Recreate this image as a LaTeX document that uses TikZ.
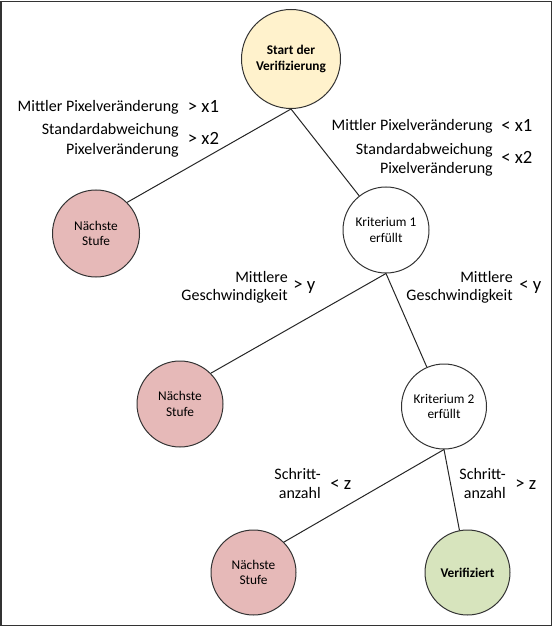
\documentclass[tikz,border=0pt]{standalone}
\usepackage{fontspec}
\setmainfont{Carlito}
\definecolor{startfill}{HTML}{FFF2CC}
\definecolor{redfill}{HTML}{E6B9B8}
\definecolor{greenfill}{HTML}{D7E4BD}
\begin{document}
\begin{tikzpicture}[x=0.75pt,y=-0.75pt,
  state/.style={circle,draw=black!80,line width=0.75pt,inner sep=0pt,minimum size=64.5pt,align=center,font=\fontsize{10pt}{11.8pt}\selectfont},
  lbl/.style={inner sep=0pt,anchor=base east,font=\fontsize{12pt}{14.4pt}\selectfont},
  cmp/.style={inner sep=0pt,anchor=base west,font=\fontsize{14pt}{16.8pt}\selectfont},
  edge/.style={draw=black!85,line width=0.75pt}]
\useasboundingbox (0,0) rectangle (553,627);
\draw[black!80,line width=1.1pt] (1.2,1.4) rectangle (551.4,625.4);

\node[state,fill=startfill,minimum size=74.25pt,font=\bfseries\fontsize{10pt}{11.8pt}\selectfont] (start) at (291,59) {Start der\\Verifizierung};
\node[state,fill=redfill,minimum size=65.25pt] (n1) at (96,233.5) {Nächste\\Stufe};
\node[state,fill=white] (k1) at (386,230) {Kriterium 1\\erfüllt};
\node[state,fill=redfill] (n2) at (180,404) {Nächste\\Stufe};
\node[state,fill=white,minimum size=63.75pt] (k2) at (444,406.5) {Kriterium 2\\erfüllt};
\node[state,fill=redfill,minimum size=63.75pt] (n3) at (253.5,572.5) {Nächste\\Stufe};
\node[state,fill=greenfill,minimum size=63.75pt,font=\bfseries\fontsize{10pt}{11.8pt}\selectfont] (ver) at (467.5,572.5) {Verifiziert};

\draw[edge] (start.south) -- (n1.45);
\draw[edge] (start.south) -- (k1);
\draw[edge] (k1.south) -- (n2.45);
\draw[edge] (k1.south) -- (k2);
\draw[edge] (k2.south) -- (n3.45);
\draw[edge] (k2.south) -- (ver);

% top left labels
\node[lbl] (l1a) at (179,111.7) {Mittler Pixelveränderung};
\node[lbl] (l1b) at (179,135) {Standardabweichung};
\node[lbl] (l1c) at (179,155) {Pixelveränderung};
\node[cmp] (c1a) at (187.7,112.7) {> x1};
\node[cmp] (c1b) at (187.7,145) {> x2};
% top right labels
\node[lbl] (r1a) at (493,130.7) {Mittler Pixelveränderung};
\node[lbl] (r1b) at (493,154.3) {Standardabweichung};
\node[lbl] (r1c) at (493,173.3) {Pixelveränderung};
\node[cmp] (d1a) at (501,131.7) {< x1};
\node[cmp] (d1b) at (501,164) {< x2};
% middle labels
\node[lbl] (l2a) at (288,282.3) {Mittlere};
\node[lbl] (l2b) at (288,300.7) {Geschwindigkeit};
\node[cmp] (c2) at (293,290.7) {> y};
\node[lbl] (r2a) at (513,282.3) {Mittlere};
\node[lbl] (r2b) at (513,300.7) {Geschwindigkeit};
\node[cmp] (d2) at (519,290.7) {< y};
% bottom labels
\node[lbl] (l3a) at (321,479.3) {Schritt-};
\node[lbl] (l3b) at (321,498.3) {anzahl};
\node[cmp] (c3) at (330,489.3) {< z};
\node[lbl] (r3a) at (506,479.3) {Schritt-};
\node[lbl] (r3b) at (506,498.3) {anzahl};
\node[cmp] (d3) at (515,489.3) {> z};
\end{tikzpicture}
\end{document}
